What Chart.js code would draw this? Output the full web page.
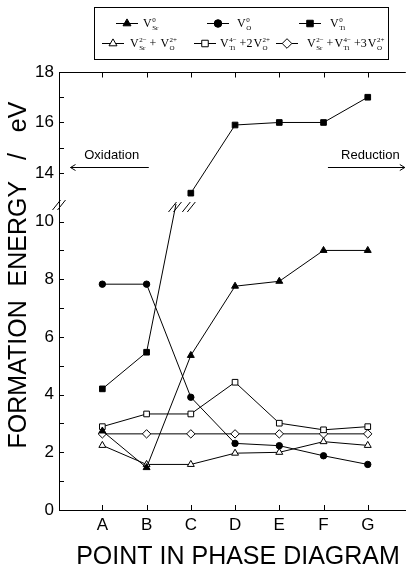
<!DOCTYPE html>
<html>
<head>
<meta charset="utf-8">
<script src="https://cdn.jsdelivr.net/npm/chart.js@4"></script>
<style>
  html, body { margin: 0; padding: 0; background: #fff; }
  #wrap { width: 411px; height: 567px; position: relative; }
</style>
</head>
<body>
<div id="wrap"><canvas id="energyChart"></canvas></div>
<script>
// points of the phase diagram (x categories)
const points = ['A', 'B', 'C', 'D', 'E', 'F', 'G'];

// formation energies in eV
const vSr = [2.74, 1.47, 5.36, 7.76, 7.93, 9.0, 9.0];
const vO = [7.83, 7.83, 3.91, 2.31, 2.23, 1.88, 1.58];
const vTi = [4.2, 5.47, 13.2, 15.9, 16.0, 16.0, 17.0];
const vSrO = [2.24, 1.58, 1.58, 1.97, 2.0, 2.37, 2.24];
const vTiO = [2.89, 3.33, 3.33, 4.43, 3.01, 2.78, 2.89];
const vSrTiO = [2.64, 2.64, 2.64, 2.64, 2.64, 2.64, 2.64];

// broken y axis: lower and upper parts
const lowTicks = [0, 1, 2, 3, 4, 5, 6, 7, 8, 9, 10];
const lowLabels = [0, 2, 4, 6, 8, 10];
const highTicks = [14, 15, 16, 17, 18];
const highLabels = [14, 16, 18];

// legend terms: [site, charge] vacancies joined by text
const legendTerms = [
    [['Sr', '0']],
    [['O', '0']],
    [['Ti', '0']],
    [['Sr', '2\u2212'], ' + ', ['O', '2+']],
    [['Ti', '4\u2212'], ' +2', ['O', '2+']],
    [['Sr', '2\u2212'], ' +', ['Ti', '4\u2212'], ' +3', ['O', '2+']],
];

const SANS = '"Liberation Sans", Arial, sans-serif';
const SERIF = '"Liberation Serif", "Times New Roman", serif';

const xy = (arr) => arr.map((v, i) => ({ x: i, y: v }));

function series(label, values, style, fill, axis) {
    return {
        label: label,
        data: xy(values),
        yAxisID: axis,
        borderColor: '#000',
        borderWidth: 1,
        pointStyle: style,
        pointRadius: style === 'circle' ? 3.2 : style === 'rectRot' ? 4.2 : 4,
        pointBackgroundColor: fill,
        pointBorderColor: '#000',
        pointBorderWidth: 1,
        tension: 0,
        spanGaps: false,
    };
}

// Ti vacancy crosses the break: lower piece up to C (clipped by its scale), upper piece from C
const vTiLow = vTi.map((v, i) => (i <= 2 ? v : null));
const vTiHigh = vTi.map((v, i) => (i >= 2 ? v : null));

function drawVacancy(ctx, x, y, site, charge) {
    ctx.font = '12px ' + SERIF;
    ctx.fillText('V', x, y);
    const w = ctx.measureText('V').width;
    ctx.font = '7px ' + SERIF;
    ctx.fillText(charge, x + w + 0.5, y - 5);
    ctx.fillText(site, x + w + 0.5, y + 3);
    return w + 0.5 + Math.max(ctx.measureText(charge).width, ctx.measureText(site).width);
}

function drawTerm(ctx, x, y, term) {
    let cx = x;
    term.forEach(part => {
        if (typeof part === 'string') {
            ctx.font = '12px ' + SERIF;
            ctx.fillText(part, cx, y);
            cx += ctx.measureText(part).width + 1;
        } else {
            cx += drawVacancy(ctx, cx, y, part[0], part[1]);
        }
    });
}

function breakMark(ctx, cx, cy) {
    [-2.5, 2.5].forEach(d => {
        ctx.beginPath();
        ctx.moveTo(cx - 4 + d, cy + 5);
        ctx.lineTo(cx + 4 + d, cy - 5);
        ctx.stroke();
    });
}

// inward tick marks on an axis
function innerTicks(ctx, scale, values, horizontal, base) {
    ctx.beginPath();
    values.forEach(v => {
        const p = Math.round(scale.getPixelForValue(v)) + 0.5;
        if (horizontal) { ctx.moveTo(p, base); ctx.lineTo(p, base - 5); }
        else { ctx.moveTo(base, p); ctx.lineTo(base + 5, p); }
    });
    ctx.stroke();
}

const decorPlugin = {
    id: 'decor',
    afterDraw(chart) {
        const { ctx, chartArea: area, scales } = chart;
        const x = scales.x, yLow = scales.yLow, yHigh = scales.yHigh;
        ctx.save();
        ctx.strokeStyle = '#000';
        ctx.fillStyle = '#000';
        ctx.lineWidth = 1;

        // top frame with inward ticks
        const top = Math.round(area.top) + 0.5;
        ctx.beginPath();
        ctx.moveTo(area.left, top);
        ctx.lineTo(area.right, top);
        ctx.stroke();
        innerTicks(ctx, x, points.map((p, i) => i), true, top + 5);
        innerTicks(ctx, x, points.map((p, i) => i), true, Math.round(area.bottom));
        innerTicks(ctx, yLow, lowTicks, false, Math.round(area.left));
        innerTicks(ctx, yHigh, highTicks, false, Math.round(area.left));

        // axis break on the y axis
        const by = yLow.top;
        breakMark(ctx, area.left, by + 1);

        // break on the Ti line between B and C
        const bx = x.getPixelForValue(1), bpy = yLow.getPixelForValue(vTi[1]);
        const cx = x.getPixelForValue(2), cpy = yLow.getPixelForValue(vTi[2]);
        const ix = bx + (cx - bx) * (bpy - by) / (bpy - cpy);
        breakMark(ctx, ix - 1, by + 3);
        breakMark(ctx, cx - 2, by + 3);

        // oxidation / reduction arrows
        ctx.font = '13px ' + SANS;
        ctx.textBaseline = 'alphabetic';
        const ay = Math.round(yHigh.getPixelForValue(14.24)) + 0.5;
        const ty = yHigh.getPixelForValue(14.55);
        const ox1 = x.getPixelForValue(-0.72), ox2 = x.getPixelForValue(1.05);
        ctx.textAlign = 'center';
        ctx.fillText('Oxidation', (ox1 + ox2) / 2 + 2, ty);
        ctx.beginPath();
        ctx.moveTo(ox2, ay); ctx.lineTo(ox1, ay);
        ctx.moveTo(ox1 + 5, ay - 3); ctx.lineTo(ox1, ay); ctx.lineTo(ox1 + 5, ay + 3);
        ctx.stroke();
        const rx1 = x.getPixelForValue(5.1), rx2 = area.right - 1;
        ctx.fillText('Reduction', (rx1 + rx2) / 2 + 4, ty);
        ctx.beginPath();
        ctx.moveTo(rx1, ay); ctx.lineTo(rx2, ay);
        ctx.moveTo(rx2 - 5, ay - 3); ctx.lineTo(rx2, ay); ctx.lineTo(rx2 - 5, ay + 3);
        ctx.stroke();

        // axis titles
        ctx.font = '25px ' + SANS;
        ctx.textAlign = 'center';
        ctx.fillText('POINT IN PHASE DIAGRAM', 238, 564);
        ctx.save();
        ctx.translate(26, 275);
        ctx.rotate(-Math.PI / 2);
        ctx.fillText('FORMATION  ENERGY   /   eV', 0, 0);
        ctx.restore();

        // legend box
        ctx.strokeRect(94.5, 7.5, 294, 52);
        const slots = [[127, 23], [218, 23], [310, 23], [113, 43], [205, 43], [287, 43]];
        const textX = [143, 237, 330, 130, 220, 307];
        chart.data.datasets.slice(0, 6).forEach((ds, i) => {
            const [mx, my] = slots[i];
            ctx.strokeStyle = '#000';
            ctx.beginPath();
            ctx.moveTo(mx - 11, my + 0.5); ctx.lineTo(mx + 11, my + 0.5);
            ctx.stroke();
            ctx.fillStyle = ds.pointBackgroundColor;
            Chart.helpers.drawPoint(ctx, {
                pointStyle: ds.pointStyle, radius: ds.pointRadius + 0.6, borderWidth: 1, rotation: 0,
            }, mx, my + 0.5);
            ctx.fillStyle = '#000';
            ctx.textAlign = 'left';
            drawTerm(ctx, textX[i], my + 4, legendTerms[i]);
        });
        ctx.restore();
    }
};

const axisFont = { family: SANS, size: 17 };

new Chart(document.getElementById('energyChart'), {
    type: 'line',
    data: {
        datasets: [
            series('V_Sr^0', vSr, 'triangle', '#000', 'yLow'),
            series('V_O^0', vO, 'circle', '#000', 'yLow'),
            series('V_Ti^0', vTiLow, 'rect', '#000', 'yLow'),
            series('V_Sr + V_O', vSrO, 'triangle', '#fff', 'yLow'),
            series('V_Ti + 2V_O', vTiO, 'rect', '#fff', 'yLow'),
            series('V_Sr + V_Ti + 3V_O', vSrTiO, 'rectRot', '#fff', 'yLow'),
            series('V_Ti^0 upper', vTiHigh, 'rect', '#000', 'yHigh'),
        ],
    },
    options: {
        responsive: true,
        maintainAspectRatio: false,
        animation: false,
        layout: { padding: { top: 72, right: 0, left: 0, bottom: 0 } },
        plugins: { legend: { display: false }, tooltip: { enabled: false } },
        scales: {
            x: {
                type: 'linear',
                min: -0.98,
                max: 6.86,
                afterBuildTicks: (s) => { s.ticks = points.map((p, i) => ({ value: i })); },
                afterFit: (s) => { s.height = 57; },
                ticks: { callback: (v) => points[v], color: '#000', font: axisFont, padding: 5, maxRotation: 0 },
                grid: { drawOnChartArea: false, drawTicks: false, color: '#000' },
                border: { color: '#000', width: 1 },
            },
            yLow: {
                type: 'linear',
                position: 'left',
                stack: 'energy',
                stackWeight: 306,
                min: 0,
                max: 10.61,
                afterBuildTicks: (s) => { s.ticks = lowTicks.map(v => ({ value: v })); },
                afterFit: (s) => { s.width = 59; },
                ticks: { callback: (v) => (lowLabels.includes(v) ? String(v) : ''), color: '#000', font: axisFont, padding: 5 },
                grid: { drawOnChartArea: false, drawTicks: false, color: '#000' },
                border: { color: '#000', width: 1 },
            },
            yHigh: {
                type: 'linear',
                position: 'left',
                stack: 'energy',
                stackWeight: 132,
                min: 12.77,
                max: 18,
                afterBuildTicks: (s) => { s.ticks = highTicks.map(v => ({ value: v })); },
                afterFit: (s) => { s.width = 59; },
                ticks: { callback: (v) => (highLabels.includes(v) ? String(v) : ''), color: '#000', font: axisFont, padding: 5 },
                grid: { drawOnChartArea: false, drawTicks: false, color: '#000' },
                border: { color: '#000', width: 1 },
            },
        },
    },
    plugins: [decorPlugin],
});
</script>
</body>
</html>
